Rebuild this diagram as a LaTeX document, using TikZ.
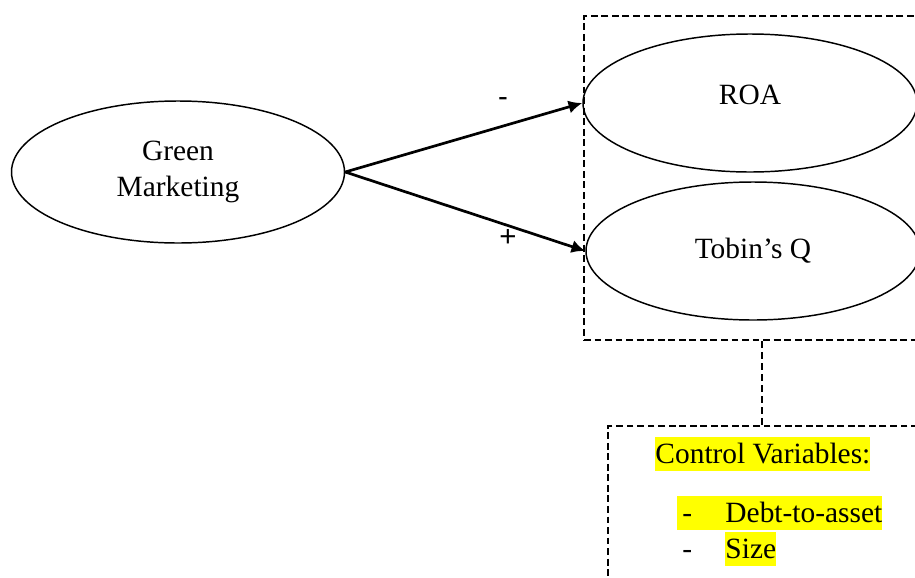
\documentclass[tikz,border=0pt]{standalone}
\usepackage{fontspec}
\setmainfont{Liberation Serif}
\newfontfamily\signfont{Liberation Sans}
\usepackage{xcolor}
\usetikzlibrary{arrows.meta,shapes.geometric}
\definecolor{marker}{RGB}{255,255,0}
\newlength\pxu
\setlength\pxu{0.408pt}

\tikzset{
  construct/.style={draw, ellipse, line width=0.6pt, inner sep=0pt,
    minimum width=334\pxu, minimum height=138\pxu, align=center},
  effect/.style={line width=1.1pt, -{Latex[length=5.6pt,width=5.4pt]}},
  group/.style={draw, line width=1pt, dash pattern=on 2.8pt off 1.5pt, inner sep=0pt},
  link/.style={line width=0.7pt, dash pattern=on 2.8pt off 1.7pt},
  hl/.style={fill=marker, inner sep=0pt, text height=10.6pt, text depth=3.3pt},
  sign/.style={font=\signfont\fontsize{12pt}{15pt}\selectfont, inner sep=0pt}
}

\begin{document}
\begin{tikzpicture}[x=\pxu, y=-0.408pt, font=\fontsize{12pt}{15pt}\selectfont]
\useasboundingbox (0,0) rectangle (915,577);
\clip (0,0) rectangle (915,577);

% dashed frames (run off the right edge)
\node[group, minimum width=356\pxu, minimum height=324\pxu] (outcome) at (762,178) {};
\node[group, minimum width=332\pxu, minimum height=194\pxu] (controls) at (774,523) {};

\node[construct, minimum width=333\pxu, minimum height=142\pxu] (gm) at (178,172) {Green\\Marketing};
\node[construct, text depth=6.6pt] (roa) at (750,103) {ROA};
\node[construct] (tq) at (753,251) {Tobin's Q};

\draw[effect] (gm.east) -- (roa.west);
\draw[effect] (gm.east) -- (tq.west);
\node[sign] (minus) at (503,102) {-};
\node[sign] (plus) at (508,238) {+};

\draw[link] (outcome.south) -- (outcome.south |- controls.north);

\node[hl, anchor=base west] (ctitle) at (655,463) {Control Variables:};
\node[hl, anchor=base west] (cdebt) at (677,522) {\makebox[48\pxu][l]{\hspace{2pt}-}Debt-to-asset};
\node[inner sep=0pt, anchor=base west] (cdash) at (677,558) {\hspace{2pt}-};
\node[hl, anchor=base west] (csize) at (725,558) {Size};
\end{tikzpicture}
\end{document}
